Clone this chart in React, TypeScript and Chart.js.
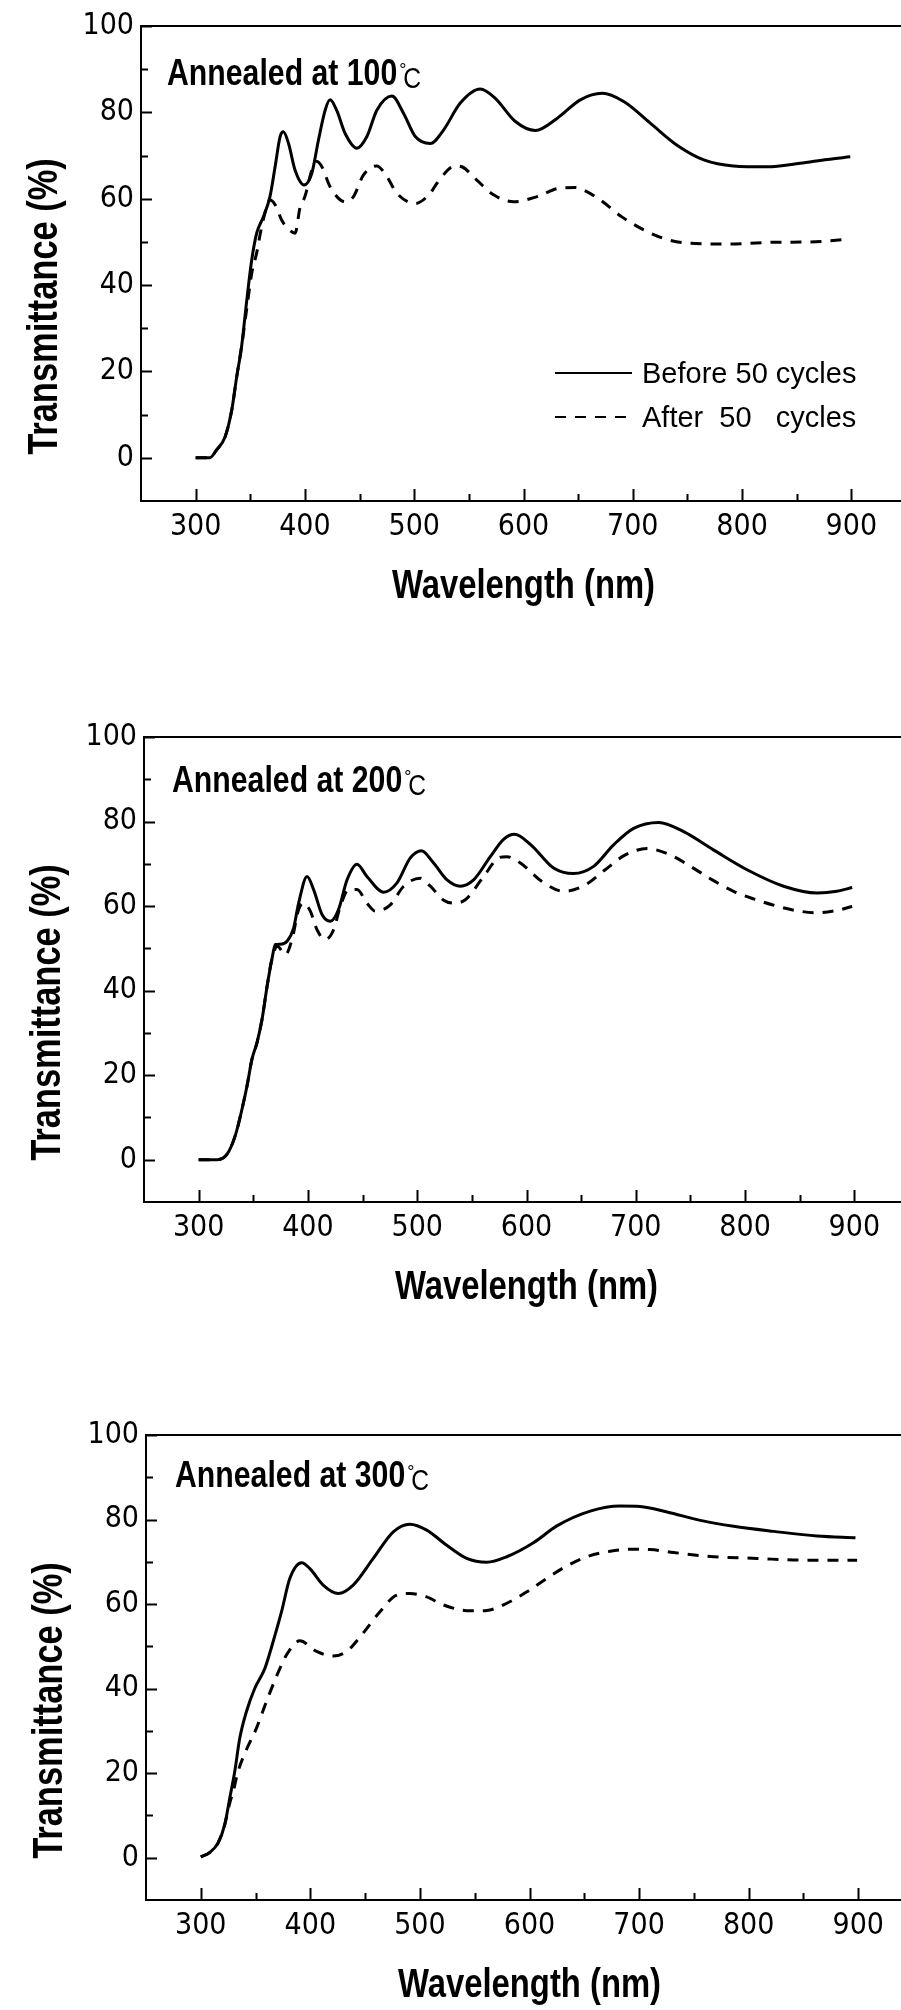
import React, { useEffect, useRef } from "react";
import { Chart, registerables } from "chart.js";

Chart.register(...registerables);

// ---------------- Data ----------------
const xTickValues = [300, 400, 500, 600, 700, 800, 900];
const xMinorValues = [350, 450, 550, 650, 750, 850];
const yTickValues = [0, 20, 40, 60, 80, 100];
const yMinorValues = [10, 30, 50, 70, 90];

const seriesLabels = ["Before 50 cycles", "After  50   cycles"];
const panelNotes = ["Annealed at 100", "Annealed at 200", "Annealed at 300"];
const xTitle = "Wavelength (nm)";
const yTitle = "Transmittance (%)";

// Panel 1 – annealed at 100 °C
const p1BeforeNm = [300, 313, 319, 327, 333, 337.6, 342, 346.8, 351.3, 355.8, 362, 368, 372.7, 377.3, 380.3, 385, 391, 399.3, 406.3, 412.4, 418.5, 423, 429, 436.8, 447.5, 456.7, 465.8, 479.6, 490.2, 501, 514.7, 526.8, 542, 560.4, 574, 592, 611, 630.7, 652, 672, 691.7, 716, 740.5, 765, 792, 823, 853, 878, 899];
const p1BeforeT = [0, 0, 1.8, 4.9, 11, 18.8, 25.7, 36.5, 45.8, 52, 55.8, 60.5, 67.4, 74.4, 75.5, 72.8, 66.6, 63.2, 65.9, 73.6, 80.5, 82.9, 80.5, 75.1, 71.7, 74.4, 80.5, 83.8, 79.8, 74.4, 72.8, 75.9, 82.1, 85.4, 83.3, 78.0, 75.8, 78.6, 82.9, 84.4, 82.5, 77.5, 72.4, 69, 67.6, 67.4, 68.2, 69.1, 69.7];
const p1AfterNm = [300, 313, 319, 327, 333, 337.6, 342, 347, 351.5, 355.8, 360.4, 365, 368, 373, 378.8, 385, 391, 395.6, 400, 406.3, 410.9, 415.5, 423, 436.8, 444.4, 453.6, 465.8, 475, 484, 501, 514.7, 520.8, 537.5, 543.6, 557.3, 572.6, 591, 612.4, 632, 647.5, 655, 670.3, 690, 710, 728.3, 746.6, 786.3, 826, 862.6, 897.7];
const p1AfterT = [0, 0, 1.8, 4.9, 11, 18.8, 25.7, 35, 43, 47.4, 53.5, 58.1, 59.7, 58.5, 55, 53, 52, 58.1, 60.5, 66.6, 68.6, 67.4, 62.8, 59.3, 60.5, 65.5, 67.6, 65.1, 61.3, 58.9, 61.3, 63.6, 67.6, 67.4, 64.3, 60.9, 59.3, 60.5, 62.4, 62.6, 62, 59.7, 55.8, 52.8, 50.8, 49.8, 49.5, 49.9, 50, 50.6];

// Panel 2 – annealed at 200 °C
const p2BeforeNm = [300, 317, 326, 333.5, 339.7, 344.3, 348.8, 353.4, 358, 362.6, 367, 370.2, 374.7, 380.9, 386.9, 391.5, 399.2, 405.2, 412.9, 420.5, 428, 435.8, 444.9, 454, 469.3, 481.5, 493.7, 503.8, 515, 527.3, 539.4, 551.6, 566.9, 579, 589, 604, 624.8, 643, 661.4, 679.7, 698, 721, 743.8, 771, 801.8, 835.3, 866, 884, 898];
const p2BeforeT = [0, 0, 1.3, 5.7, 12, 17.5, 23.8, 27.7, 33.2, 41, 47.4, 50.9, 51, 51.7, 54.8, 60.7, 67, 63.9, 58, 56.4, 59.2, 66.2, 69.9, 67, 63.3, 65.5, 71.4, 73.1, 70.2, 66.2, 64.7, 66.2, 71.7, 75.8, 77, 74.5, 69, 67.7, 69.4, 74.5, 78.4, 79.8, 77.6, 73.3, 68.6, 64.7, 63.1, 63.5, 64.4];
const p2AfterNm = [300, 317, 326, 333.5, 339.7, 344.3, 348.8, 353.4, 358, 362.6, 367, 372, 379.3, 385.4, 391.5, 396, 402.2, 408.3, 415.9, 423.5, 429.6, 437.2, 444.9, 454, 461.7, 475.4, 487.6, 502.8, 512, 524.2, 533.3, 544, 560.8, 574.5, 582, 594.4, 614.2, 634, 653.8, 672, 690.4, 710.3, 731.6, 750, 770, 789.5, 807.8, 827.7, 847.5, 866, 882.6, 898];
const p2AfterT = [0, 0, 1.3, 5.7, 12, 17.5, 23.8, 27.7, 33.2, 41, 47.4, 50.5, 48.5, 52.1, 59.2, 60.7, 58.8, 54.4, 52.1, 54.4, 59.9, 63.9, 63.9, 60.7, 58.8, 60.3, 64.7, 66.6, 64.7, 61.4, 60.7, 61.5, 67, 71.4, 71.7, 70.2, 65.8, 63.5, 65, 68.6, 72.1, 73.6, 72.1, 69.4, 66.2, 63.5, 61.7, 60.1, 58.9, 58.4, 58.9, 59.9];

// Panel 3 – annealed at 300 °C
const p3BeforeNm = [300, 308, 315.8, 321.9, 326.5, 331, 335.6, 341.7, 349.3, 358.5, 366, 373.7, 381.3, 392, 399.6, 411.7, 425.4, 439.1, 457.4, 475.7, 490.9, 506.2, 524.5, 542.7, 561, 579.3, 603.6, 625, 655.4, 682.8, 701, 725.5, 756, 786.3, 823, 862.5, 897.5];
const p3BeforeT = [0.2, 1.2, 3.5, 7.9, 14.2, 20.4, 28.3, 34.6, 40.1, 44.8, 51.1, 58.2, 66.1, 69.8, 68.4, 64.5, 62.5, 64.5, 70.8, 77.1, 78.9, 77.5, 73.9, 70.8, 69.9, 71.2, 74.5, 78.5, 82, 83.2, 83.1, 81.8, 79.8, 78.4, 77.2, 76.1, 75.7];
const p3AfterNm = [300, 308, 315.8, 321.9, 326.5, 329.5, 334, 341.7, 350.9, 360, 369.1, 378.3, 390.4, 405.7, 420.9, 433.1, 446.8, 463.5, 478.8, 490.9, 506.2, 521.4, 545.7, 561, 579.3, 597.6, 615.9, 632.5, 652.4, 673.7, 695, 710.3, 731.5, 768, 807.7, 847.2, 899];
const p3AfterT = [0.2, 1.2, 3.5, 7.9, 13, 15.6, 20.4, 25.6, 30.7, 37, 42.9, 48, 51.3, 48.8, 47.7, 48.8, 52.7, 58.2, 62.1, 62.5, 61.7, 59.8, 58.4, 58.5, 60.2, 62.9, 66.1, 68.8, 71.2, 72.5, 73, 72.9, 72.2, 71.2, 70.8, 70.4, 70.4];

// ---------------- Styling / layout ----------------
const TICK_FONT = "'DejaVu Sans Condensed', 'DejaVu Sans', sans-serif";
const SANS = "'Liberation Sans', Arial, sans-serif";
const NARROW_SCALE = 0.82;
const CANVAS_W = 960;
const Y_AXIS_W = 110;
const X_AXIS_H = 60;

type Panel = {
  top: number;
  height: number;
  left: number;
  right: number;
  areaTop: number;
  areaBottom: number;
  noteDx: number;
  noteDy: number;
  legend: boolean;
  beforeNm: number[];
  beforeT: number[];
  afterNm: number[];
  afterT: number[];
  note: string;
};

const panels: Panel[] = [
  { top: 0, height: 640, left: 141, right: 906, areaTop: 26, areaBottom: 501, noteDx: 26, noteDy: 59, legend: true, beforeNm: p1BeforeNm, beforeT: p1BeforeT, afterNm: p1AfterNm, afterT: p1AfterT, note: panelNotes[0] },
  { top: 640, height: 700, left: 144, right: 909, areaTop: 97, areaBottom: 562, noteDx: 28, noteDy: 55, legend: false, beforeNm: p2BeforeNm, beforeT: p2BeforeT, afterNm: p2AfterNm, afterT: p2AfterT, note: panelNotes[1] },
  { top: 1340, height: 670, left: 146, right: 913, areaTop: 95, areaBottom: 560, noteDx: 29, noteDy: 52, legend: false, beforeNm: p3BeforeNm, beforeT: p3BeforeT, afterNm: p3AfterNm, afterT: p3AfterT, note: panelNotes[2] },
];

const toPoints = (xs: number[], ys: number[]) => xs.map((x, i) => ({ x, y: ys[i] }));

function narrowText(ctx: CanvasRenderingContext2D, text: string, x: number, y: number, align: CanvasTextAlign, rotate = 0, sx = NARROW_SCALE) {
  ctx.save();
  ctx.translate(x, y);
  if (rotate) ctx.rotate(rotate);
  ctx.scale(sx, 1);
  ctx.textAlign = align;
  ctx.textBaseline = "alphabetic";
  ctx.fillText(text, 0, 0);
  const w = ctx.measureText(text).width * sx;
  ctx.restore();
  return w;
}

const decorPlugin = {
  id: "decor",
  afterDraw(chart: any, _args: any, o: any) {
    const { ctx, chartArea: a } = chart;
    const xs = chart.scales.x;
    const ys = chart.scales.y;
    ctx.save();
    ctx.strokeStyle = "#000";
    ctx.fillStyle = "#000";
    ctx.lineWidth = 2;
    ctx.setLineDash([]);
    // top and right frame
    ctx.beginPath();
    ctx.moveTo(a.left - 1, a.top);
    ctx.lineTo(a.right, a.top);
    ctx.lineTo(a.right, a.bottom);
    ctx.stroke();
    // inward tick marks
    ctx.beginPath();
    xTickValues.forEach((v) => {
      const p = Math.round(xs.getPixelForValue(v)) + 0.5;
      ctx.moveTo(p, a.bottom);
      ctx.lineTo(p, a.bottom - 12);
    });
    xMinorValues.forEach((v) => {
      const p = Math.round(xs.getPixelForValue(v)) + 0.5;
      ctx.moveTo(p, a.bottom);
      ctx.lineTo(p, a.bottom - 7);
    });
    yTickValues.forEach((v) => {
      const p = Math.round(ys.getPixelForValue(v)) + 0.5;
      ctx.moveTo(a.left, p);
      ctx.lineTo(a.left + 11, p);
    });
    yMinorValues.forEach((v) => {
      const p = Math.round(ys.getPixelForValue(v)) + 0.5;
      ctx.moveTo(a.left, p);
      ctx.lineTo(a.left + 7, p);
    });
    ctx.stroke();

    // axis titles
    ctx.font = `bold 40px ${SANS}`;
    narrowText(ctx, xTitle, (a.left + a.right) / 2, a.bottom + 97, "center");
    ctx.font = `bold 42px ${SANS}`;
    narrowText(ctx, yTitle, a.left - 84, (a.top + a.bottom) / 2 + 43, "center", -Math.PI / 2);

    // annotation
    const tx = a.left + o.noteDx;
    const ty = a.top + o.noteDy;
    ctx.font = `bold 36px ${SANS}`;
    const w = narrowText(ctx, o.note, tx, ty, "left", 0, 0.84);
    ctx.font = `18px ${SANS}`;
    ctx.textAlign = "left";
    ctx.fillText("°", tx + w + 2, ty - 9);
    ctx.font = `30px ${SANS}`;
    narrowText(ctx, "C", tx + w + 6, ty + 3, "left");

    // legend
    if (o.legend) {
      const ly = [373, 417];
      chart.data.datasets.forEach((ds: any, i: number) => {
        ctx.lineWidth = 2.2;
        ctx.setLineDash(ds.borderDash || []);
        ctx.beginPath();
        ctx.moveTo(555, ly[i]);
        ctx.lineTo(632, ly[i]);
        ctx.stroke();
        ctx.setLineDash([]);
        ctx.font = `29px ${SANS}`;
        ctx.textAlign = "left";
        ctx.textBaseline = "alphabetic";
        ctx.fillText(ds.label, 642, ly[i] + 9.5);
      });
    }
    ctx.restore();
  },
};

function PanelChart({ p }: { p: Panel }) {
  const ref = useRef<HTMLCanvasElement | null>(null);
  useEffect(() => {
    if (!ref.current) return;
    const chart = new Chart(ref.current, {
      type: "line",
      data: {
        datasets: [
          {
            label: seriesLabels[0],
            data: toPoints(p.beforeNm, p.beforeT),
            borderColor: "#000",
            borderWidth: 3,
            pointRadius: 0,
            fill: false,
            cubicInterpolationMode: "monotone",
            borderDash: [],
          },
          {
            label: seriesLabels[1],
            data: toPoints(p.afterNm, p.afterT),
            borderColor: "#000",
            borderWidth: 3,
            pointRadius: 0,
            fill: false,
            cubicInterpolationMode: "monotone",
            borderDash: [11, 9],
          },
        ],
      },
      options: {
        responsive: false,
        animation: false,
        devicePixelRatio: 1,
        layout: {
          padding: {
            left: p.left - Y_AXIS_W,
            right: CANVAS_W - p.right,
            top: p.areaTop,
            bottom: p.height - p.areaBottom - X_AXIS_H,
          },
        },
        plugins: {
          legend: { display: false },
          tooltip: { enabled: false },
          decor: { note: p.note, noteDx: p.noteDx, noteDy: p.noteDy, legend: p.legend },
        } as any,
        scales: {
          x: {
            type: "linear",
            min: 250,
            max: 950,
            afterBuildTicks: (s: any) => {
              s.ticks = xTickValues.map((v) => ({ value: v }));
            },
            afterFit: (s: any) => {
              s.height = X_AXIS_H;
            },
            grid: { display: false, drawTicks: false },
            border: { display: true, color: "#000", width: 2 },
            ticks: { color: "#000", font: { family: TICK_FONT, size: 30 }, padding: 8, maxRotation: 0, autoSkip: false },
          },
          y: {
            type: "linear",
            min: -10,
            max: 100,
            afterBuildTicks: (s: any) => {
              s.ticks = yTickValues.map((v) => ({ value: v }));
            },
            afterFit: (s: any) => {
              s.width = Y_AXIS_W;
            },
            grid: { display: false, drawTicks: false },
            border: { display: true, color: "#000", width: 2 },
            ticks: { color: "#000", font: { family: TICK_FONT, size: 30 }, padding: 7, autoSkip: false },
          },
        },
      },
      plugins: [decorPlugin],
    } as any);
    return () => chart.destroy();
  }, [p]);
  return (
    <canvas
      ref={ref}
      width={CANVAS_W}
      height={p.height}
      style={{ position: "absolute", left: 0, top: p.top, width: CANVAS_W, height: p.height }}
    />
  );
}

export default function App() {
  return (
    <div style={{ position: "absolute", left: 0, top: 0, width: 901, height: 2010, overflow: "hidden", background: "#fff" }}>
      {panels.map((p, i) => (
        <PanelChart key={i} p={p} />
      ))}
    </div>
  );
}
